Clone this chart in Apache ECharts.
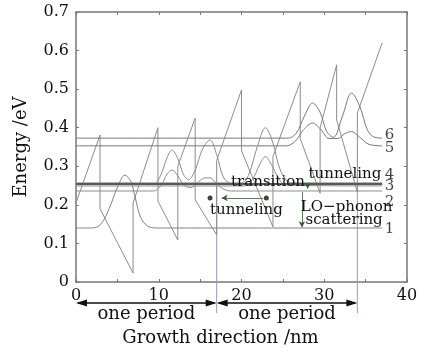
<!DOCTYPE html>
<html>
<head>
<meta charset="utf-8">
<title>Energy band</title>
<script src="https://cdn.jsdelivr.net/npm/echarts@6/dist/echarts.min.js"></script>
<style>html,body{margin:0;padding:0;background:#fff}#main{width:429px;height:354px}</style>
</head>
<body>
<div id="main"></div>
<script>
// conduction band edge (nm, eV)
var bandEdge = [[0,0.205],[2.9,0.381],[2.9,0.19],[6.9,0.023],[6.9,0.205],[9.9,0.40],[9.9,0.21],[12.3,0.109],[12.3,0.30],[14.4,0.425],[14.4,0.213],[17.0,0.122],[17.0,0.315],[20.0,0.498],[20.0,0.34],[23.8,0.143],[23.8,0.325],[27.1,0.519],[27.1,0.372],[29.5,0.23],[29.5,0.40],[31.5,0.563],[31.5,0.42],[34.0,0.233],[34.0,0.438],[37.0,0.62]];

// wavefunctions drawn on their levels
var wf6 = [[0,0.373],[25.6,0.373],[26.6,0.385],[27.6,0.43],[28.6,0.464],[29.5,0.44],[30.3,0.39],[31.1,0.375],[32.2,0.43],[33.3,0.49],[34.3,0.455],[35.2,0.395],[36.0,0.376],[37,0.373]];
var wf5 = [[0,0.353],[25.4,0.353],[26.5,0.365],[27.5,0.395],[28.6,0.412],[29.6,0.395],[30.6,0.372],[31.6,0.372],[32.5,0.385],[33.3,0.39],[34.3,0.375],[35.4,0.357],[37,0.353]];
var wfUp1 = [[0,0.253],[9.3,0.253],[10.2,0.275],[11.0,0.322],[11.6,0.342],[12.3,0.32],[13.0,0.278],[13.6,0.265],[14.4,0.29],[15.3,0.345],[16.2,0.368],[17.0,0.33],[17.8,0.272],[18.7,0.255],[19.6,0.253],[37,0.253]];
var wf4 = [[0,0.257],[20.0,0.257],[20.9,0.28],[21.9,0.35],[22.9,0.40],[23.8,0.36],[24.6,0.295],[25.5,0.262],[26.4,0.257],[37,0.257]];
var wf3 = [[0,0.249],[20.3,0.249],[21.3,0.265],[22.2,0.305],[22.9,0.325],[23.6,0.305],[24.5,0.268],[25.4,0.251],[37,0.249]];
var wf2 = [[0,0.236],[9.4,0.236],[10.4,0.255],[11.0,0.28],[11.6,0.29],[12.3,0.275],[13.1,0.25],[13.9,0.245],[14.8,0.26],[15.6,0.27],[16.2,0.27],[17.0,0.255],[17.9,0.24],[18.8,0.236],[37,0.236]];
var wf1 = [[0,0.14],[2.0,0.14],[3.0,0.15],[4.0,0.19],[5.0,0.245],[5.9,0.277],[6.6,0.262],[7.2,0.215],[7.8,0.168],[8.6,0.146],[9.6,0.14],[37,0.14]];

var levelNames = ['6','5','4','3','2','1'];
var levelLabelY = [0.381,0.347,0.277,0.249,0.207,0.137];
var levelLabelX = 37.9;

var tunnelDots = [[16.2,0.218],[23.0,0.218]];

var myChart = echarts.init(document.getElementById('main'));
var FONT = 'DejaVu Serif';
var FRAME = '#777';

function wave(data, color, width) {
    return {
        type: 'line', data: data, smooth: 0.35, symbol: 'none', silent: true,
        lineStyle: { color: color, width: width }, z: 3
    };
}

var levelData = [];
for (var i = 0; i < levelNames.length; i++) {
    levelData.push([levelLabelX, levelLabelY[i], levelNames[i]]);
}

var thick = wave(wf4, '#8a8a8a', 1);
thick.markLine = {
    silent: true, symbol: 'none', label: { show: false },
    lineStyle: { color: '#5a5a5a', width: 2, type: 'solid' },
    data: [[{ coord: [0, 0.256] }, { coord: [37, 0.256] }]]
};

var option = {
    animation: false,
    grid: { left: 76, right: 22, top: 12, bottom: 72 },
    xAxis: [{
        type: 'value', min: 0, max: 40, interval: 10,
        name: 'Growth direction /nm', nameLocation: 'middle', nameGap: 47,
        nameTextStyle: { fontFamily: FONT, fontSize: 18, color: '#111', padding: [0, 42, 0, 0] },
        axisLine: { onZero: false, lineStyle: { color: FRAME, width: 1.5 } },
        axisTick: { inside: true, length: 3, lineStyle: { color: FRAME } },
        minorTick: { show: true, splitNumber: 2, length: 3, lineStyle: { color: FRAME } },
        axisLabel: { fontFamily: FONT, fontSize: 16, color: '#111', margin: 6 },
        splitLine: { show: false }
    }, {
        type: 'value', min: 0, max: 40, interval: 10, position: 'top',
        axisLine: { show: true, onZero: false, lineStyle: { color: FRAME, width: 1.5 } },
        axisTick: { show: true, inside: true, length: 3, lineStyle: { color: FRAME } },
        minorTick: { show: true, splitNumber: 2, length: 3, lineStyle: { color: FRAME } },
        axisLabel: { show: false }, splitLine: { show: false }
    }],
    yAxis: [{
        type: 'value', min: 0, max: 0.7, interval: 0.1,
        name: 'Energy /eV', nameLocation: 'middle', nameGap: 46,
        nameTextStyle: { fontFamily: FONT, fontSize: 18, color: '#111' },
        axisLine: { show: true, onZero: false, lineStyle: { color: FRAME, width: 1.5 } },
        axisTick: { show: true, inside: true, length: 3, lineStyle: { color: FRAME } },
        axisLabel: {
            fontFamily: FONT, fontSize: 16, color: '#111', margin: 7,
            formatter: function (v) { return v === 0 ? '0' : v.toFixed(1); }
        },
        splitLine: { show: false }
    }, {
        type: 'value', min: 0, max: 0.7, interval: 0.1, position: 'right',
        axisLine: { show: true, onZero: false, lineStyle: { color: FRAME, width: 1.5 } },
        axisTick: { show: true, inside: true, length: 3, lineStyle: { color: FRAME } },
        axisLabel: { show: false }, splitLine: { show: false }
    }],
    series: [
        {
            type: 'line', data: bandEdge, symbol: 'none', silent: true, z: 2,
            lineStyle: { color: '#8c8c8c', width: 1 }
        },
        wave(wf6, '#777', 1),
        wave(wf5, '#777', 1),
        wave(wfUp1, '#8a8a8a', 1),
        thick,
        wave(wf3, '#8a8a8a', 1),
        wave(wf2, '#8a8a8a', 1),
        wave(wf1, '#808080', 1),
        {
            type: 'scatter', data: tunnelDots, symbolSize: 5, silent: true, z: 5,
            itemStyle: { color: '#111' },
            markLine: {
                silent: true, symbol: ['none', 'arrow'], symbolSize: [5, 6],
                lineStyle: { color: '#2f5f2f', width: 0.8, type: 'solid' },
                label: { show: false },
                data: [
                    [{ coord: [22.6, 0.218] }, { coord: [17.6, 0.218] }],
                    [{ coord: [27.3, 0.233] }, { coord: [27.3, 0.142] }],
                    [{ coord: [28.0, 0.25] }, { coord: [28.0, 0.242] }]
                ]
            }
        },
        {
            type: 'scatter', data: levelData, symbolSize: 0, silent: true, z: 6,
            label: {
                show: true, position: 'inside', formatter: function (p) { return p.data[2]; },
                fontFamily: FONT, fontSize: 15, color: '#111'
            }
        }
    ]
};
myChart.setOption(option);

// annotations placed through the axes
var g = [];
function px(x, y) { return myChart.convertToPixel({ xAxisIndex: 0, yAxisIndex: 0 }, [x, y]); }
function note(x, y, text) {
    var p = px(x, y);
    g.push({ type: 'text', x: p[0], y: p[1], z: 10, silent: true,
        style: { text: text, font: '15px "DejaVu Serif"', fill: '#111', align: 'center', verticalAlign: 'middle' } });
}
note(20.6, 0.187, 'tunneling');
note(23.2, 0.259, 'transition');
note(32.5, 0.281, 'tunneling');
note(32.7, 0.194, 'LO\u2212phonon');
note(32.4, 0.161, 'scattering');

// period markers
var yArrow = 303, yText = 314;
var periods = [[0, 17], [17, 34]];
[17, 34].forEach(function (x) {
    var top = px(x, 0.255), bot = px(x, 0);
    g.push({ type: 'line', silent: true, z: 1, shape: { x1: top[0], y1: top[1], x2: bot[0], y2: bot[1] + 31 },
        style: { stroke: '#9b95c9', lineWidth: 1 } });
});
periods.forEach(function (pr) {
    var a = px(pr[0], 0)[0], b = px(pr[1], 0)[0];
    g.push({ type: 'line', silent: true, shape: { x1: a + 2, y1: yArrow, x2: b - 2, y2: yArrow },
        style: { stroke: '#111', lineWidth: 1.5 } });
    g.push({ type: 'polygon', silent: true, shape: { points: [[a, yArrow], [a + 11, yArrow - 3.5], [a + 11, yArrow + 3.5]] },
        style: { fill: '#111' } });
    g.push({ type: 'polygon', silent: true, shape: { points: [[b, yArrow], [b - 11, yArrow - 3.5], [b - 11, yArrow + 3.5]] },
        style: { fill: '#111' } });
    g.push({ type: 'text', x: (a + b) / 2, y: yText, silent: true,
        style: { text: 'one period', font: '18px "DejaVu Serif"', fill: '#111', align: 'center', verticalAlign: 'middle' } });
});
myChart.setOption({ graphic: g });
</script>
</body>
</html>
